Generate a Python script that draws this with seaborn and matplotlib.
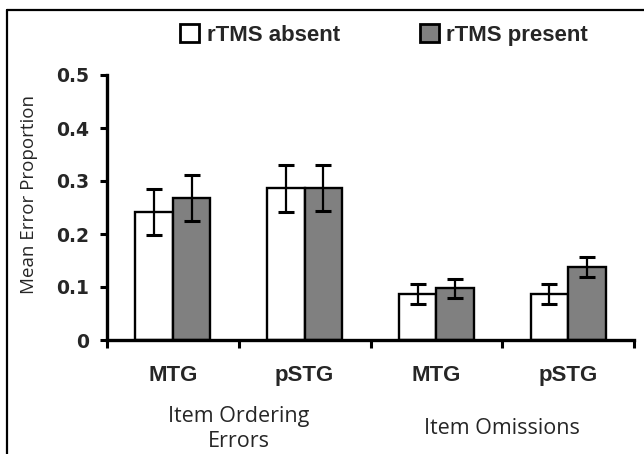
import matplotlib
matplotlib.use("Agg")
import matplotlib.pyplot as plt
from matplotlib.lines import Line2D
from matplotlib.patches import Patch
import seaborn as sns
import numpy as np
import pandas as pd

# values
slots = ["ord_MTG", "ord_pSTG", "om_MTG", "om_pSTG"]
regions = ["MTG", "pSTG", "MTG", "pSTG"]
groups = ["Item Ordering\nErrors", "Item Omissions"]
conditions = ["rTMS absent", "rTMS present"]
absent = [0.241, 0.286, 0.087, 0.087]
present = [0.268, 0.287, 0.098, 0.138]
absent_err = [0.0435, 0.044, 0.019, 0.019]
present_err = [0.043, 0.044, 0.018, 0.019]

df = pd.DataFrame({
    "slot": slots * 2,
    "cond": [conditions[0]] * 4 + [conditions[1]] * 4,
    "value": absent + present,
})

sns.set_style("ticks")
plt.rcParams["font.family"] = ["Liberation Sans", "DejaVu Sans"]

W, H = 644, 454
fig = plt.figure(figsize=(W / 100, H / 100), dpi=100)
ax = fig.add_axes([107 / W, 1 - 340 / H, (634 - 107) / W, (340 - 75) / H])

palette = {conditions[0]: "white", conditions[1]: "#808080"}
sns.barplot(data=df, x="slot", y="value", hue="cond", order=slots,
            hue_order=conditions, palette=palette, width=0.57,
            edgecolor="black", linewidth=1.7, errorbar=None,
            saturation=1, legend=False, ax=ax)

# error bars on top of each bar
for cont, errs in zip(ax.containers, [absent_err, present_err]):
    xs = [b.get_x() + b.get_width() / 2 for b in cont]
    hs = [b.get_height() for b in cont]
    ax.errorbar(xs, hs, yerr=errs, fmt="none", ecolor="black",
                elinewidth=1.6, capsize=5.5, capthick=2.2, zorder=5)

ax.set_xlim(-0.5, 3.5)
ax.set_ylim(0, 0.5)
ax.set_yticks(np.arange(0, 0.51, 0.1))
ax.set_yticklabels(["0", "0.1", "0.2", "0.3", "0.4", "0.5"],
                   fontfamily="DejaVu Sans", fontweight="bold", fontsize=13.5)
ax.set_xticks(range(4))
ax.set_xticklabels(regions, fontweight="bold", fontsize=16)
ax.set_xticks(np.arange(-0.5, 3.6, 1), minor=True)
ax.tick_params(axis="x", which="major", length=0, pad=18)
ax.tick_params(axis="x", which="minor", bottom=True, length=6, width=2.2,
               direction="out", color="black")
ax.tick_params(axis="y", left=True, length=5, width=2.2, direction="out",
               pad=8, color="black")

sns.despine(ax=ax)
for s in ["left", "bottom"]:
    ax.spines[s].set_linewidth(2.4)
    ax.spines[s].set_color("black")

ax.set_xlabel("")
ax.set_ylabel("Mean Error Proportion", fontfamily="Open Sans", fontsize=13.5)
ax.yaxis.set_label_coords(-0.13, 0.55)

# group labels under the region names
for i, g in enumerate(groups):
    xc = ax.transData.transform((2 * i + 0.5, 0))[0] / W
    fig.text(xc, 1 - 429 / H, g, ha="center", va="center",
             fontfamily="Open Sans", fontsize=15.5, linespacing=1.25)

handles = [Patch(facecolor=palette[c], edgecolor="black", linewidth=2.0)
           for c in conditions]
fig.legend(handles, conditions, loc="center", bbox_to_anchor=(384 / W, 1 - 35 / H),
           ncol=2, frameon=False, prop={"weight": "bold", "size": 16},
           handlelength=0.85, handleheight=0.85, handletextpad=0.35,
           columnspacing=3.6)

# outer frame (top and left edges visible)
fig.add_artist(Line2D([7 / W, 1.0], [1 - 10 / H, 1 - 10 / H], color="black",
                      lw=1.6, transform=fig.transFigure))
fig.add_artist(Line2D([7 / W, 7 / W], [0, 1 - 10 / H], color="black",
                      lw=1.6, transform=fig.transFigure))

fig.savefig("out.png", dpi=100)
